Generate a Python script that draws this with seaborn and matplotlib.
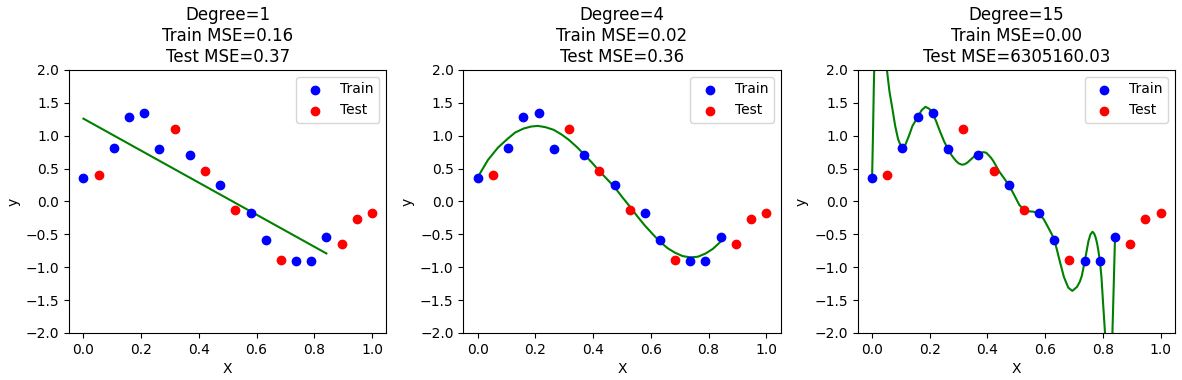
import matplotlib

matplotlib.use("Agg")
import matplotlib.pyplot as plt
import seaborn as sns

# points
x_train = [0.000, 0.105, 0.158, 0.211, 0.263, 0.368, 0.474, 0.579, 0.632, 0.737, 0.789, 0.842]
y_train = [0.36, 0.81, 1.29, 1.35, 0.80, 0.71, 0.25, -0.18, -0.59, -0.91, -0.91, -0.54]
x_test = [0.053, 0.316, 0.421, 0.526, 0.684, 0.895, 0.947, 1.000]
y_test = [0.40, 1.10, 0.47, -0.13, -0.89, -0.65, -0.27, -0.18]

degrees = [1, 4, 15]
train_mse = ["0.16", "0.02", "0.00"]
test_mse = ["0.37", "0.36", "6305160.03"]

# fitted curves
fit1_x = [0.0, 0.842]
fit1_y = [1.26, -0.79]

fit4_x = [0.000, 0.035, 0.070, 0.105, 0.130, 0.159, 0.185, 0.208, 0.235, 0.263, 0.290,
          0.315, 0.343, 0.370, 0.396, 0.422, 0.448, 0.474, 0.500, 0.526, 0.552, 0.578,
          0.605, 0.631, 0.658, 0.684, 0.710, 0.737, 0.763, 0.790, 0.815, 0.842]
fit4_y = [0.37, 0.63, 0.82, 0.96, 1.05, 1.11, 1.14, 1.15, 1.13, 1.09, 1.02,
          0.94, 0.83, 0.71, 0.59, 0.46, 0.34, 0.22, 0.07, -0.07, -0.22, -0.36,
          -0.49, -0.61, -0.71, -0.78, -0.83, -0.85, -0.84, -0.79, -0.72, -0.61]

fit15_x = [0.000, 0.003, 0.006, 0.010, 0.020, 0.032, 0.043, 0.052, 0.060, 0.070, 0.080,
           0.090, 0.100, 0.106, 0.115, 0.127, 0.140, 0.159, 0.172, 0.185, 0.198, 0.210,
           0.222, 0.235, 0.250, 0.263, 0.276, 0.290, 0.300, 0.311, 0.320, 0.330, 0.340,
           0.350, 0.360, 0.369, 0.378, 0.387, 0.396, 0.405, 0.413, 0.421, 0.430, 0.440,
           0.458, 0.474, 0.490, 0.510, 0.526, 0.545, 0.560, 0.579, 0.595, 0.611, 0.622,
           0.632, 0.641, 0.650, 0.665, 0.680, 0.694, 0.710, 0.720, 0.727, 0.737, 0.745,
           0.750, 0.757, 0.764, 0.770, 0.775, 0.780, 0.784, 0.790, 0.795, 0.800, 0.808,
           0.815, 0.822, 0.829, 0.833, 0.838, 0.842]
fit15_y = [0.36, 1.00, 1.75, 2.50, 3.20, 3.30, 2.70, 1.98, 1.68, 1.42, 1.15,
           0.95, 0.84, 0.81, 0.86, 0.99, 1.15, 1.29, 1.39, 1.44, 1.41, 1.34,
           1.22, 1.07, 0.91, 0.80, 0.70, 0.62, 0.58, 0.56, 0.565, 0.59, 0.63,
           0.67, 0.71, 0.73, 0.745, 0.75, 0.74, 0.70, 0.66, 0.61, 0.54, 0.46,
           0.35, 0.25, 0.12, -0.05, -0.13, -0.15, -0.155, -0.19, -0.27, -0.40, -0.49,
           -0.59, -0.74, -0.90, -1.15, -1.31, -1.36, -1.30, -1.22, -1.13, -0.91, -0.72,
           -0.60, -0.50, -0.46, -0.49, -0.55, -0.64, -0.74, -0.92, -1.15, -1.50, -2.05,
           -3.00, -3.30, -2.80, -2.00, -1.20, -0.54]

fit_xs = [fit1_x, fit4_x, fit15_x]
fit_ys = [fit1_y, fit4_y, fit15_y]

fig, axes = plt.subplots(1, 3, figsize=(11.82, 3.8), dpi=100)
# the original was saved with a tight bbox, so place the axes by hand
fig.subplots_adjust(left=0.0584, right=0.9941, top=0.8158, bottom=0.1237, wspace=0.2425)

for i, ax in enumerate(axes):
    sns.scatterplot(x=x_train, y=y_train, ax=ax, color="blue", edgecolor="face",
                    linewidth=1, s=36, label="Train", zorder=3)
    sns.scatterplot(x=x_test, y=y_test, ax=ax, color="red", edgecolor="face",
                    linewidth=1, s=36, label="Test", zorder=3)
    sns.lineplot(x=fit_xs[i], y=fit_ys[i], ax=ax, color="green", linewidth=1.5,
                 sort=False, estimator=None, zorder=2)
    ax.set_ylim(-2, 2)
    ax.set_xlim(-0.05, 1.05)
    ax.set_xlabel("X")
    ax.set_ylabel("y")
    ax.set_title(f"Degree={degrees[i]}\nTrain MSE={train_mse[i]}\nTest MSE={test_mse[i]}")
    ax.legend(loc="upper right")

plt.savefig("out.png", dpi=100)
